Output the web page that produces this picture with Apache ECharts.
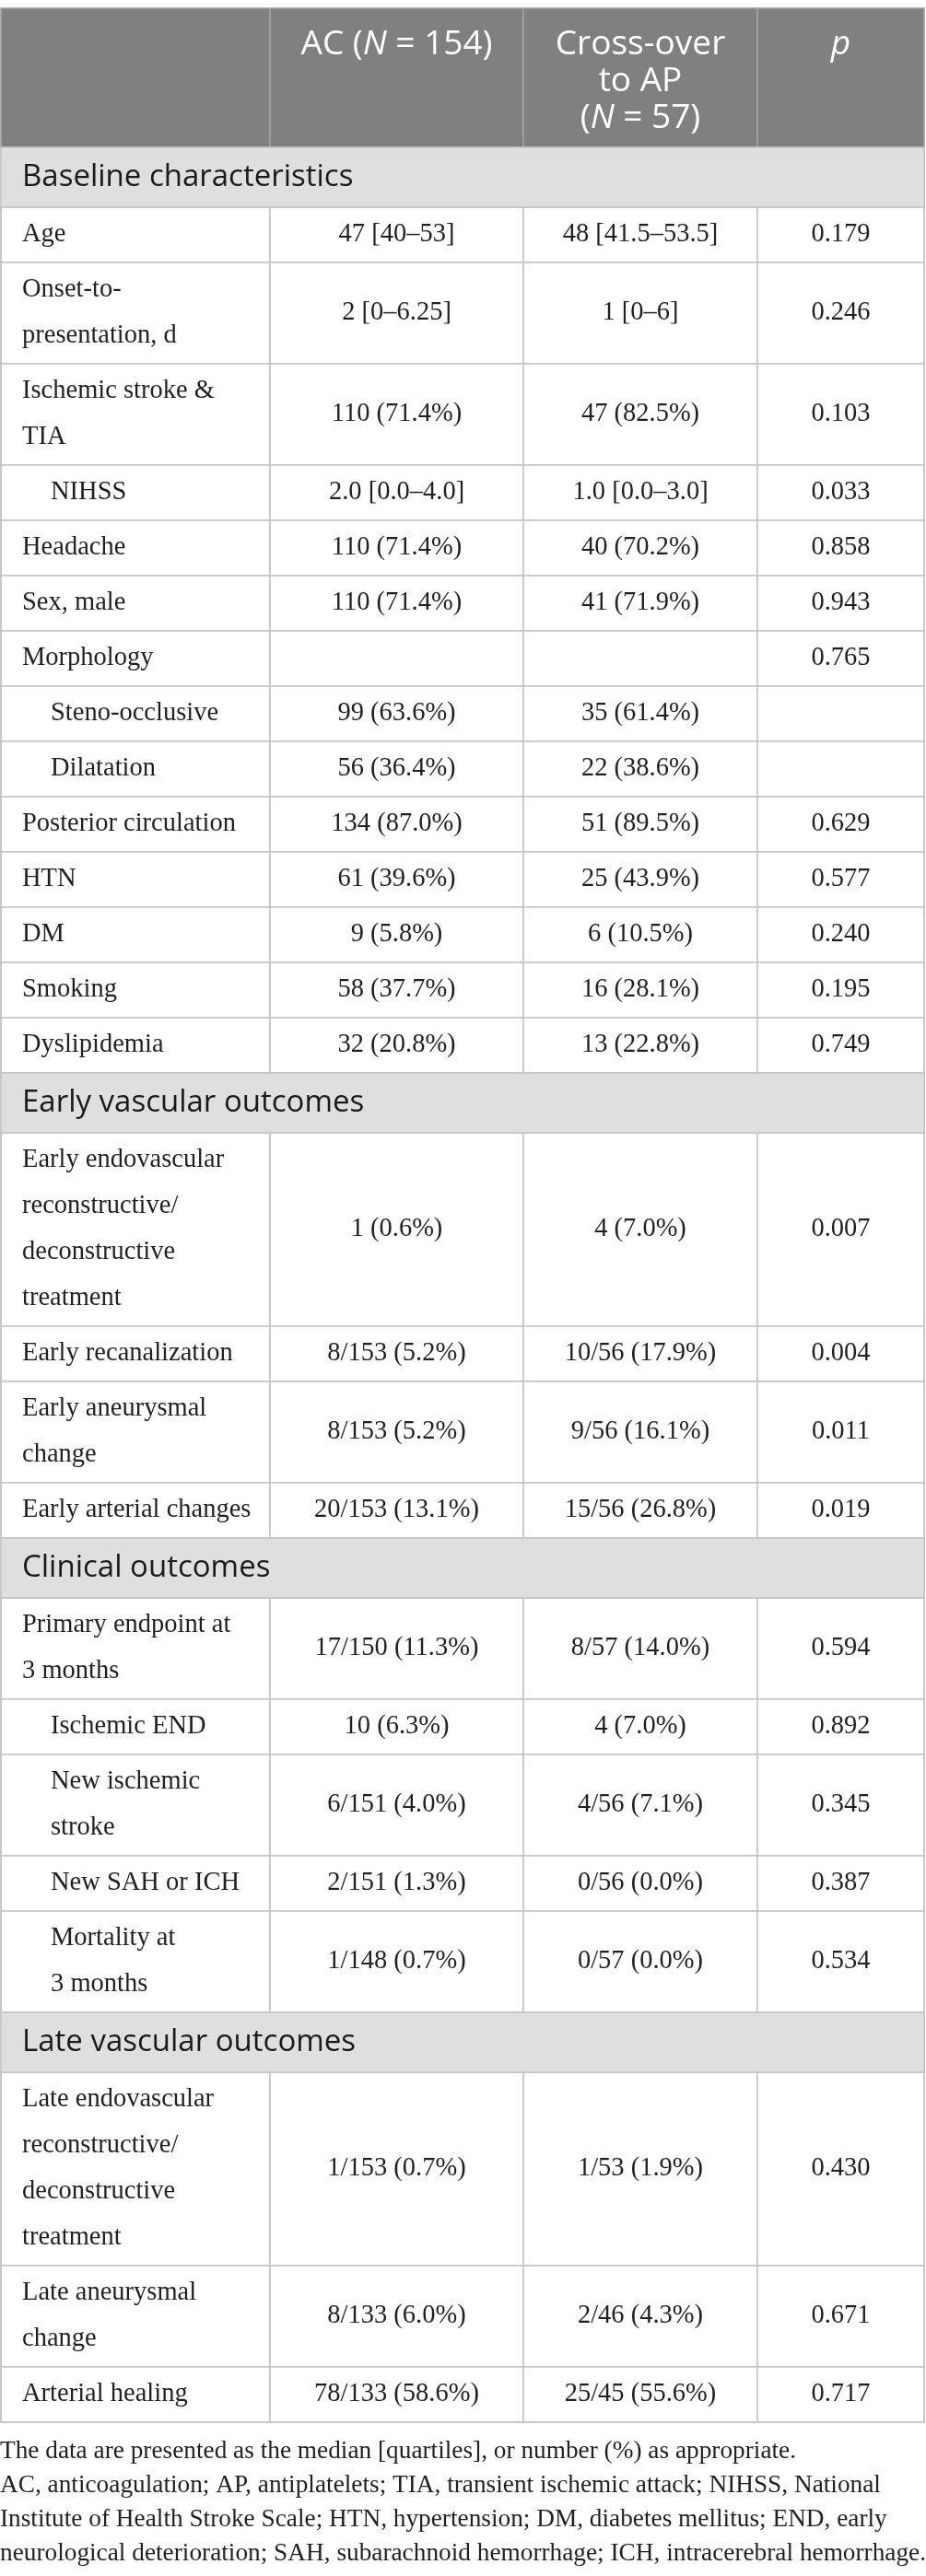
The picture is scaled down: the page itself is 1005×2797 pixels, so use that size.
<!DOCTYPE html>
<html>
<head>
<meta charset="utf-8">
<script src="https://cdn.jsdelivr.net/npm/echarts@6.0.0/dist/echarts.min.js"></script>
<style>
html, body { margin: 0; padding: 0; background: #fff; }
#main { width: 1005px; height: 2797px; }
</style>
</head>
<body>
<div id="main"></div>
<script>
// table content
var columns = ['', 'AC ({i|N} = 154)', 'Cross-over\nto AP\n({i|N} = 57)', '{i|p}'];
var sections = ['Baseline characteristics', 'Early vascular outcomes', 'Clinical outcomes', 'Late vascular outcomes'];
var rowLabels = [
	'Age', 'Onset-to-\npresentation, d', 'Ischemic stroke &\nTIA', 'NIHSS', 'Headache', 'Sex, male',
	'Morphology', 'Steno-occlusive', 'Dilatation', 'Posterior circulation', 'HTN', 'DM', 'Smoking', 'Dyslipidemia',
	'Early endovascular\nreconstructive/\ndeconstructive\ntreatment', 'Early recanalization',
	'Early aneurysmal\nchange', 'Early arterial changes',
	'Primary endpoint at\n3 months', 'Ischemic END', 'New ischemic\nstroke', 'New SAH or ICH', 'Mortality at\n3 months',
	'Late endovascular\nreconstructive/\ndeconstructive\ntreatment', 'Late aneurysmal\nchange', 'Arterial healing'
];
var rowSection = [0, 0, 0, 0, 0, 0, 0, 0, 0, 0, 0, 0, 0, 0, 1, 1, 1, 1, 2, 2, 2, 2, 2, 3, 3, 3];
var rowSub = [0, 0, 0, 1, 0, 0, 0, 1, 1, 0, 0, 0, 0, 0, 0, 0, 0, 0, 0, 1, 1, 1, 1, 0, 0, 0];
var acValues = [
	'47 [40–53]', '2 [0–6.25]', '110 (71.4%)', '2.0 [0.0–4.0]', '110 (71.4%)', '110 (71.4%)',
	'', '99 (63.6%)', '56 (36.4%)', '134 (87.0%)', '61 (39.6%)', '9 (5.8%)', '58 (37.7%)', '32 (20.8%)',
	'1 (0.6%)', '8/153 (5.2%)', '8/153 (5.2%)', '20/153 (13.1%)',
	'17/150 (11.3%)', '10 (6.3%)', '6/151 (4.0%)', '2/151 (1.3%)', '1/148 (0.7%)',
	'1/153 (0.7%)', '8/133 (6.0%)', '78/133 (58.6%)'
];
var apValues = [
	'48 [41.5–53.5]', '1 [0–6]', '47 (82.5%)', '1.0 [0.0–3.0]', '40 (70.2%)', '41 (71.9%)',
	'', '35 (61.4%)', '22 (38.6%)', '51 (89.5%)', '25 (43.9%)', '6 (10.5%)', '16 (28.1%)', '13 (22.8%)',
	'4 (7.0%)', '10/56 (17.9%)', '9/56 (16.1%)', '15/56 (26.8%)',
	'8/57 (14.0%)', '4 (7.0%)', '4/56 (7.1%)', '0/56 (0.0%)', '0/57 (0.0%)',
	'1/53 (1.9%)', '2/46 (4.3%)', '25/45 (55.6%)'
];
var pValues = [
	'0.179', '0.246', '0.103', '0.033', '0.858', '0.943',
	'0.765', '', '', '0.629', '0.577', '0.240', '0.195', '0.749',
	'0.007', '0.004', '0.011', '0.019',
	'0.594', '0.892', '0.345', '0.387', '0.534',
	'0.430', '0.671', '0.717'
];
var footnotes = [
	'The data are presented as the median [quartiles], or number (%) as appropriate.',
	'AC, anticoagulation; AP, antiplatelets; TIA, transient ischemic attack; NIHSS, National',
	'Institute of Health Stroke Scale; HTN, hypertension; DM, diabetes mellitus; END, early',
	'neurological deterioration; SAH, subarachnoid hemorrhage; ICH, intracerebral hemorrhage.'
];

var colWidths = [292, 275, 254, 182];
var serif = '"Liberation Serif", "Times New Roman", serif';
var sans = '"Open Sans", "Noto Sans", sans-serif';

function rowHeight(label) {
	var n = label.split('\n').length;
	return 10 + 50 * n;
}

var headerLabel = {
	position: 'insideTop',
	distance: 17,
	overflow: 'none',
	color: '#ffffff',
	fontFamily: sans,
	fontSize: 37,
	lineHeight: 40,
	rich: {
		i: { fontStyle: 'italic', fontFamily: sans, fontSize: 37, lineHeight: 40, color: '#ffffff' }
	}
};
var headerStyle = { color: '#808080', borderColor: '#a4a4a4', borderWidth: 1.5 };
var bandStyle = { color: '#e0dfe0', borderColor: '#c4c4c4', borderWidth: 1.5 };
var bandLabel = { position: 'insideLeft', distance: 20, overflow: 'none', color: '#1a1a1a', fontFamily: sans, fontSize: 33 };

var yData = [];
var cells = [];
yData.push({ value: 'hdr', size: 151 });
columns.forEach(function (c, ci) {
	cells.push({ coord: [ci, 0], value: c, itemStyle: headerStyle, label: headerLabel });
});
sections.forEach(function (s, si) {
	var ri = yData.length;
	yData.push({ value: 'sec' + si, size: 65 });
	cells.push({ coord: [[0, 3], ri], mergeCells: true, value: s, itemStyle: bandStyle, label: bandLabel });
	rowLabels.forEach(function (lab, k) {
		if (rowSection[k] !== si) return;
		var r = yData.length;
		yData.push({ value: 'row' + k, size: rowHeight(lab) });
		cells.push({ coord: [0, r], value: lab, label: { position: 'insideLeft', distance: rowSub[k] ? 51 : 20, overflow: 'none' } });
		cells.push({ coord: [1, r], value: acValues[k] });
		cells.push({ coord: [2, r], value: apValues[k] });
		cells.push({ coord: [3, r], value: pValues[k] });
	});
});
var tableHeight = yData.reduce(function (a, d) { return a + d.size; }, 0);

var chart = echarts.init(document.getElementById('main'));
var option = {
	backgroundColor: '#ffffff',
	animation: false,
	matrix: {
		left: 1,
		top: 9,
		width: 1002,
		height: tableHeight,
		backgroundStyle: { color: '#ffffff', borderColor: '#c4c4c4', borderWidth: 1.5 },
		x: {
			show: false,
			data: colWidths.map(function (w, i) { return { value: 'c' + i, size: w }; })
		},
		y: {
			show: false,
			data: yData
		},
		body: {
			data: cells,
			itemStyle: { color: '#ffffff', borderColor: '#c4c4c4', borderWidth: 1.5 },
			label: {
				color: '#231f20',
				fontFamily: serif,
				fontSize: 28.5,
				lineHeight: 50,
				overflow: 'none'
			}
		}
	},
	graphic: [{
		type: 'text',
		left: 0,
		top: 9 + tableHeight + 13,
		style: {
			text: footnotes.join('\n'),
			font: '27.3px "Liberation Serif", serif',
			lineHeight: 37,
			fill: '#231f20'
		}
	}]
};
chart.setOption(option);
</script>
</body>
</html>
